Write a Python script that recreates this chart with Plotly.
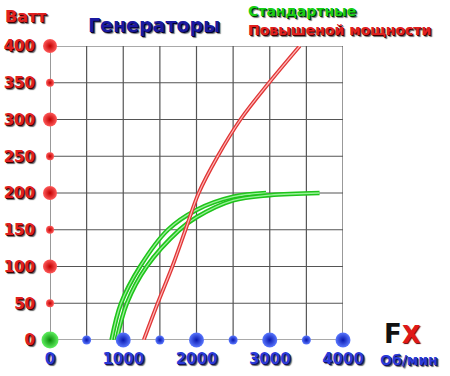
import plotly.graph_objects as go

# ---- data ----
rpm_red = [1280, 1470, 1670, 1850, 2030, 2290, 2600, 2990, 3410]
watt_red = [0, 50, 100, 150, 200, 250, 300, 350, 400]

rpm_green_a = [840, 970, 1230, 1610, 2000, 2500, 2950]
watt_green_a = [0, 50, 100, 150, 177, 195, 200]

rpm_green_b = [910, 1050, 1320, 1770, 2000, 2500, 3000, 3680]
watt_green_b = [0, 50, 100, 150, 167, 190, 197, 200]

y_ticks = [0, 50, 100, 150, 200, 250, 300, 350, 400]
y_labels = ["0", "50", "100", "150", "200", "250", "300", "350", "400"]
x_ticks = [0, 1000, 2000, 3000, 4000]
x_labels = ["0", "1000", "2000", "3000", "4000"]
x_minor = [500, 1000, 1500, 2000, 2500, 3000, 3500, 4000]
y_minor = [50, 100, 150, 200, 250, 300, 350, 400]

fig = go.Figure()

def tube(x, y, outer, inner, w_out, w_in):
    fig.add_trace(go.Scatter(x=x, y=y, mode="lines", line=dict(color=outer, width=w_out, shape="spline", smoothing=1.0),
                             hoverinfo="skip", showlegend=False, cliponaxis=False))
    fig.add_trace(go.Scatter(x=x, y=y, mode="lines", line=dict(color=inner, width=w_in, shape="spline", smoothing=1.0),
                             hoverinfo="skip", showlegend=False, cliponaxis=False))

tube(rpm_green_a, watt_green_a, "#1fc41b", "#9af09a", 4.5, 1.3)
tube(rpm_green_b, watt_green_b, "#1fc41b", "#9af09a", 4.5, 1.3)
tube(rpm_red, watt_red, "#e03636", "#ffb8b8", 3.8, 1.2)

def spheres(xs, ys, sizes, base, rim):
    fig.add_trace(go.Scatter(x=xs, y=ys, mode="markers",
                             marker=dict(color=base, size=sizes, opacity=1,
                                         gradient=dict(type="radial", color=rim),
                                         line=dict(width=0)),
                             cliponaxis=False, showlegend=False, hoverinfo="skip"))

y_sizes = [14 if v % 100 == 0 else 8 for v in y_minor]
spheres([0] * len(y_minor), y_minor, y_sizes, "#ff5a5a", "#c00000")
x_sizes = [15 if v % 1000 == 0 else 9 for v in x_minor]
spheres(x_minor, [0] * len(x_minor), x_sizes, "#5a78ff", "#0818b0")
spheres([0], [0], [17], "#60f060", "#088a08")

shadow = "1px 1px 0px #400000, 2px 2px 1px #666"
blue_shadow = "1px 1px 0px #101060, 2px 2px 1px #666"
fig.update_layout(
    width=450, height=376,
    margin=dict(l=50, r=107, t=46, b=36, autoexpand=False),
    paper_bgcolor="white", plot_bgcolor="white",
    xaxis=dict(range=[0, 4000], tickvals=x_ticks, ticktext=x_labels, showgrid=False, automargin=False,
               showline=False, zeroline=False, ticks="", ticklabelstandoff=8,
               tickfont=dict(family="DejaVu Sans", size=15, color="#2a3ad8", weight="bold", shadow=blue_shadow)),
    yaxis=dict(range=[0, 400], tickvals=y_ticks, ticktext=y_labels, showgrid=False, automargin=False,
               showline=False, zeroline=False, ticks="", ticklabelstandoff=14,
               tickfont=dict(family="DejaVu Sans", size=15, color="#e02020", weight="bold", shadow=shadow)),
)

# grid lines
for v in x_minor:
    fig.add_shape(type="line", x0=v, x1=v, y0=0, y1=400, xref="x", yref="y",
                  line=dict(color="#555555", width=1.2), layer="below")
for v in y_minor:
    fig.add_shape(type="line", x0=0, x1=4000, y0=v, y1=v, xref="x", yref="y",
                  line=dict(color="#555555", width=1.2), layer="below")
fig.add_shape(type="line", x0=0, x1=0, y0=0, y1=400, xref="x", yref="y",
              line=dict(color="#555555", width=1.2), layer="below")
fig.add_shape(type="line", x0=0, x1=4000, y0=0, y1=0, xref="x", yref="y",
              line=dict(color="#555555", width=1.2), layer="below")

def px(x):
    return (x - 50) / 293
def py(y):
    return (340 - y) / 294

def ann(xp, yp, s, color, size, sh, anchor="left"):
    fig.add_annotation(x=px(xp), y=py(yp), xref="paper", yref="paper", text=s, showarrow=False,
                       xanchor=anchor, yanchor="middle",
                       font=dict(family="DejaVu Sans", size=size, color=color, weight="bold", shadow=sh))

ann(3, 16, "Ватт", "#e02020", 16, shadow)
ann(86, 25, "Генераторы", "#1a1aa0", 19, "1px 1px 0px #000030, 2px 2px 1px #777")
ann(246, 11, "Стандартные", "#18d018", 14, "1px 1px 0px #003000, 2px 2px 1px #777")
ann(246, 30, "Повышеной мощности", "#e02020", 14, shadow)
ann(378, 360, "Об/мин", "#2a3ad8", 14, blue_shadow)
ann(382, 334, "F", "#111111", 26, "none")
ann(400, 335, "X", "#e01818", 24, "1px 1px 1px #600000")

fig.write_html("out.html", config={"displayModeBar": False, "staticPlot": True},
               post_script="document.body.style.margin='0';document.body.style.padding='0';")
